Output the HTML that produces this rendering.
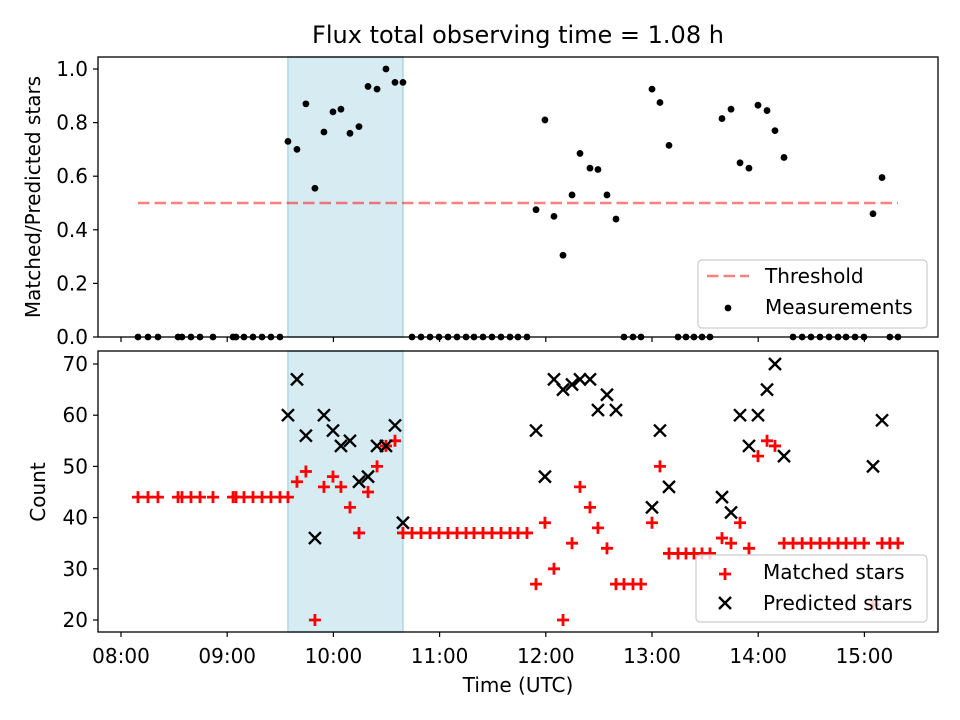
<!DOCTYPE html>
<html><head><meta charset="utf-8"><style>
html,body{margin:0;padding:0;background:#fff;}
svg{display:block;font-family:"DejaVu Sans","Liberation Sans",sans-serif;}
</style></head><body>
<svg id="chart" width="960" height="720" viewBox="0 0 960 720"></svg>
<script>
const times = [8.16,8.254,8.348,8.537,8.574,8.659,8.744,8.866,9.055,9.083,9.158,9.243,9.328,9.412,9.497,
9.572,9.657,9.741,9.826,9.911,9.996,10.071,10.156,10.241,10.326,10.411,10.495,10.580,10.655,
10.740,10.825,10.910,10.994,11.079,11.164,11.249,11.324,11.409,11.493,11.578,11.663,11.738,11.823,
11.908,11.992,12.077,12.162,12.247,12.322,12.416,12.491,12.576,12.661,
12.736,12.821,12.896,
13.0,13.075,13.160,
13.245,13.320,13.395,13.471,13.546,
13.659,13.744,13.829,13.913,13.998,14.083,14.158,14.243,
14.328,14.414,14.497,14.582,14.667,14.752,14.827,14.912,14.996,
15.081,15.166,
15.24,15.316];
const N = null;
const ratios = [0,0,0,0,0,0,0,0,0,0,0,0,0,0,0,
0.73,0.70,0.87,0.555,0.765,0.84,0.85,0.76,0.785,0.935,0.925,1.0,0.95,0.95,
0,0,0,0,0,0,0,0,0,0,0,0,0,0,
0.475,0.81,0.45,0.305,0.53,0.685,0.63,0.625,0.53,0.44,
0,0,0,
0.925,0.875,0.715,
0,0,0,0,0,
0.815,0.85,0.65,0.63,0.865,0.845,0.77,0.67,
0,0,0,0,0,0,0,0,0,
0.46,0.595,
0,0];
const matched = [44,44,44,44,44,44,44,44,44,44,44,44,44,44,44,
44,47,49,20,46,48,46,42,37,45,50,54,55,37,
37,37,37,37,37,37,37,37,37,37,37,37,37,37,
27,39,30,20,35,46,42,38,34,27,
27,27,27,
39,50,33,
33,33,33,33,33,
36,35,39,34,52,55,54,35,
35,35,35,35,35,35,35,35,35,
23,35,
35,35];
const predicted = [N,N,N,N,N,N,N,N,N,N,N,N,N,N,N,
60,67,56,36,60,57,54,55,47,48,54,54,58,39,
N,N,N,N,N,N,N,N,N,N,N,N,N,N,
57,48,67,65,66,67,67,61,64,61,
N,N,N,
42,57,46,
N,N,N,N,N,
44,41,60,54,60,65,70,52,
N,N,N,N,N,N,N,N,N,
50,59,
N,N];
const threshold = [0.5];
const shadeSpan = [9.572, 10.655];
const xTickHours = [8,9,10,11,12,13,14,15];
const xTickLabels = ["08:00","09:00","10:00","11:00","12:00","13:00","14:00","15:00"];
const topTicks = [0,0.2,0.4,0.6,0.8,1.0];
const topTickLabels = ["0.0","0.2","0.4","0.6","0.8","1.0"];
const botTicks = [20,30,40,50,60,70];
const botTickLabels = ["20","30","40","50","60","70"];

const NS="http://www.w3.org/2000/svg";
const svg=document.getElementById('chart');
function mk(tag,attrs,parent){const e=document.createElementNS(NS,tag);for(const k in attrs)e.setAttribute(k,attrs[k]);(parent||svg).appendChild(e);return e;}
const L=98,R=938,T1=57,B1=337,T2=351,B2=632;
function xs(h){return 121+(h-8)*106.2;}
function yTop(v){return 337-v*268;}
function yBot(v){return 620-(v-20)*5.12;}

// title
let t=mk('text',{x:518,y:43,'text-anchor':'middle','font-size':'24',fill:'#000'});
t.textContent='Flux total observing time = 1.08 h';



// shaded spans
[[T1,B1,'top-shade'],[T2,B2,'bottom-shade']].forEach(p=>{
 const r=mk('rect',{x:xs(shadeSpan[0]),y:p[0],width:xs(shadeSpan[1])-xs(shadeSpan[0]),height:p[1]-p[0],fill:'#add8e6','fill-opacity':0.5,stroke:'#add8e6','stroke-width':1.5});
 
 
});

// threshold line
let th=mk('line',{x1:xs(times[0]),x2:xs(times[times.length-1]),y1:yTop(threshold[0]),y2:yTop(threshold[0]),stroke:'#ff0000','stroke-opacity':0.5,'stroke-width':2.5,'stroke-dasharray':'11.5 5'});



// top points
const gTop=mk('g',{});


times.forEach((h,i)=>{
 if(ratios[i]===null)return;
 const c=mk('circle',{cx:xs(h),cy:yTop(ratios[i]),r:3.4,fill:'#000'},gTop);
 
 
});

// bottom matched
const gM=mk('g',{});


function plus(x,y,parent,col){return mk('path',{d:`M${x-6},${y}H${x+6}M${x},${y-6}V${y+6}`,stroke:col,'stroke-width':2.8,fill:'none'},parent);}
function cross(x,y,parent,col){return mk('path',{d:`M${x-6},${y-6}L${x+6},${y+6}M${x-6},${y+6}L${x+6},${y-6}`,stroke:col,'stroke-width':2.4,fill:'none'},parent);}
times.forEach((h,i)=>{
 if(matched[i]===null)return;
 const p=plus(xs(h),yBot(matched[i]),gM,'#ff0000');
 
 
});
const gP=mk('g',{});


times.forEach((h,i)=>{
 if(predicted[i]===null)return;
 const p=cross(xs(h),yBot(predicted[i]),gP,'#000');
 
 
});

// axes frames
[[T1,B1,'top-axes-frame'],[T2,B2,'bottom-axes-frame']].forEach(p=>{
 const r=mk('rect',{x:L,y:p[0],width:R-L,height:p[1]-p[0],fill:'none',stroke:'#000','stroke-width':1.3});
 
 
});

// x ticks
xTickHours.forEach((h,i)=>{
 const x=xs(h);
 mk('line',{x1:x,x2:x,y1:B1,y2:B1+5,stroke:'#000','stroke-width':1.2});
 mk('line',{x1:x,x2:x,y1:B2,y2:B2+5,stroke:'#000','stroke-width':1.2});
 const tx=mk('text',{x:x,y:663,'text-anchor':'middle','font-size':'20',fill:'#000'});
 tx.textContent=xTickLabels[i];
 
 
});
topTicks.forEach((v,i)=>{
 const y=yTop(v);
 mk('line',{x1:L-5,x2:L,y1:y,y2:y,stroke:'#000','stroke-width':1.2});
 const tx=mk('text',{x:88,y:y+7,'text-anchor':'end','font-size':'20',fill:'#000'});
 tx.textContent=topTickLabels[i];
 
 
});
botTicks.forEach((v,i)=>{
 const y=yBot(v);
 mk('line',{x1:L-5,x2:L,y1:y,y2:y,stroke:'#000','stroke-width':1.2});
 const tx=mk('text',{x:88,y:y+7,'text-anchor':'end','font-size':'20',fill:'#000'});
 tx.textContent=botTickLabels[i];
 
 
});

// axis labels
let xl=mk('text',{x:518,y:692,'text-anchor':'middle','font-size':'20',fill:'#000'});
xl.textContent='Time (UTC)';


let yl1=mk('text',{x:0,y:0,'text-anchor':'middle','font-size':'20',fill:'#000',transform:'translate(40,197) rotate(-90)'});
yl1.textContent='Matched/Predicted stars';


let yl2=mk('text',{x:0,y:0,'text-anchor':'middle','font-size':'20',fill:'#000',transform:'translate(45,492) rotate(-90)'});
yl2.textContent='Count';



// legends
const lg1=mk('g',{});


mk('rect',{x:698,y:260,width:229,height:68,rx:4,fill:'#fff','fill-opacity':0.8,stroke:'#ccc','stroke-width':1.2},lg1);
mk('line',{x1:707,x2:749,y1:276,y2:276,stroke:'#ff0000','stroke-opacity':0.5,'stroke-width':2.5,'stroke-dasharray':'11.5 5'},lg1);
let lt=mk('text',{x:765,y:283,'font-size':'20',fill:'#000'},lg1);
lt.textContent='Threshold';


mk('circle',{cx:728,cy:308,r:3.4,fill:'#000'},lg1);
lt=mk('text',{x:765,y:314,'font-size':'20',fill:'#000'},lg1);
lt.textContent='Measurements';



const lg2=mk('g',{});


mk('rect',{x:696,y:555,width:231,height:67,rx:4,fill:'#fff','fill-opacity':0.8,stroke:'#ccc','stroke-width':1.2},lg2);
plus(725,574,lg2,'#ff0000');
lt=mk('text',{x:763,y:579,'font-size':'20',fill:'#000'},lg2);
lt.textContent='Matched stars';


cross(725,603,lg2,'#000');
lt=mk('text',{x:763,y:610,'font-size':'20',fill:'#000'},lg2);
lt.textContent='Predicted stars';


</script>
</body></html>
